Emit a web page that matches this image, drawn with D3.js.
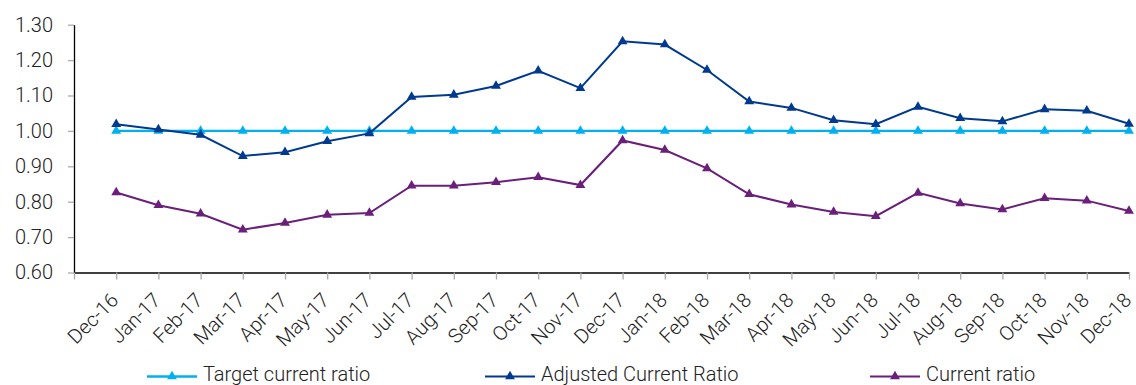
<!DOCTYPE html>
<html>
<head>
<meta charset="utf-8">
<script src="https://cdn.jsdelivr.net/npm/d3@7"></script>
<style>
  html, body { margin: 0; padding: 0; background: #fff; }
  svg { display: block; font-family: Roboto, "Liberation Sans", sans-serif; }
</style>
</head>
<body>
<svg id="chart" width="1136" height="385"></svg>
<script>
// Monthly liquidity ratios, Dec-16 to Dec-18
const months = ["Dec-16","Jan-17","Feb-17","Mar-17","Apr-17","May-17","Jun-17","Jul-17","Aug-17","Sep-17","Oct-17","Nov-17","Dec-17",
  "Jan-18","Feb-18","Mar-18","Apr-18","May-18","Jun-18","Jul-18","Aug-18","Sep-18","Oct-18","Nov-18","Dec-18"];
const targetRatio   = [1.00,1.00,1.00,1.00,1.00,1.00,1.00,1.00,1.00,1.00,1.00,1.00,1.00,1.00,1.00,1.00,1.00,1.00,1.00,1.00,1.00,1.00,1.00,1.00,1.00];
const adjustedRatio = [1.019,1.004,0.989,0.929,0.940,0.971,0.993,1.096,1.102,1.127,1.170,1.121,1.253,1.244,1.172,1.083,1.065,1.030,1.019,1.068,1.036,1.027,1.061,1.057,1.020];
const currentRatio  = [0.826,0.790,0.766,0.721,0.740,0.763,0.768,0.845,0.845,0.855,0.869,0.847,0.973,0.946,0.894,0.821,0.792,0.771,0.759,0.825,0.795,0.778,0.810,0.803,0.774];
const yTicks = [0.60,0.70,0.80,0.90,1.00,1.10,1.20,1.30];

const seriesNames  = ["Target current ratio","Adjusted Current Ratio","Current ratio"];
const seriesValues = [targetRatio, adjustedRatio, currentRatio];
const seriesColors = ["#00b0f0","#003a8f","#6a1f7a"];
const seriesWidths = [2.4, 2, 2];

const svg = d3.select("#chart");
const plotLeft = 74, plotRight = 1129, plotTop = 24.7, plotBottom = 272.5;

// A leading blank slot keeps the first month one step away from the value axis
const x = d3.scalePoint().domain(["", ...months]).range([plotLeft, plotRight]);
const y = d3.scaleLinear().domain([0.6, 1.3]).range([plotBottom, plotTop]);

// Value axis
const yAxis = svg.append("g").attr("transform", `translate(${plotLeft},0)`)
  .call(d3.axisLeft(y).tickValues(yTicks).tickFormat(d3.format(".2f")).tickSize(6).tickSizeOuter(0));
yAxis.select(".domain").attr("stroke", "#000").attr("stroke-width", 1.3);
yAxis.selectAll(".tick line").attr("stroke", "#aaa").attr("stroke-width", 1.3);
yAxis.selectAll(".tick text").attr("x", -21).attr("font-size", 20).attr("fill", "#222")
  .attr("font-family", "Roboto, sans-serif").attr("font-weight", 300);

// Category axis
const xAxis = svg.append("g").attr("transform", `translate(0,${plotBottom})`)
  .call(d3.axisBottom(x).tickSize(7).tickSizeOuter(0));
xAxis.select(".domain").attr("stroke", "#000").attr("stroke-width", 1.3);
xAxis.selectAll(".tick line").attr("stroke", "#aaa").attr("stroke-width", 1.3);
xAxis.selectAll(".tick text")
  .attr("font-size", 20).attr("fill", "#222").attr("font-weight", 300)
  .attr("font-family", "Roboto, sans-serif")
  .attr("text-anchor", "end")
  .attr("transform", "translate(3,29) rotate(-45)")
  .attr("x", 0).attr("y", 0).attr("dy", 0);

// Series lines and triangle markers
const line = d3.line().x((d, i) => x(months[i])).y(d => y(d));
const tri = d3.symbol().type(d3.symbolTriangle).size(42);

seriesValues.forEach((vals, s) => {
  const g = svg.append("g");
  g.append("path").datum(vals).attr("d", line)
    .attr("fill", "none").attr("stroke", seriesColors[s]).attr("stroke-width", seriesWidths[s]);
  g.selectAll("path.mk").data(vals).join("path").attr("class", "mk")
    .attr("d", tri)
    .attr("transform", (d, i) => `translate(${x(months[i])},${y(d)})`)
    .attr("fill", seriesColors[s]);
});

// Legend
const legendX = [147, 485, 870];
const legendY = 376.5;
seriesNames.forEach((name, s) => {
  const g = svg.append("g").attr("transform", `translate(${legendX[s]},${legendY})`);
  g.append("line").attr("x1", 0).attr("x2", 50).attr("y1", 0).attr("y2", 0)
    .attr("stroke", seriesColors[s]).attr("stroke-width", seriesWidths[s]);
  g.append("path").attr("d", tri).attr("transform", "translate(25,0)").attr("fill", seriesColors[s]);
  g.append("text").attr("x", 56).attr("y", 4.3)
    .attr("font-size", 20).attr("fill", "#222").attr("font-weight", 300)
    .text(name);
});
</script>
</body>
</html>
